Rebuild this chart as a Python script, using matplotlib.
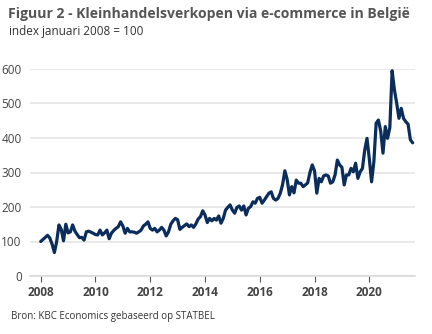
import matplotlib
matplotlib.use("Agg")
import matplotlib.pyplot as plt
import numpy as np

# Monthly index (Jan 2008 = 100), Jan 2008 .. Aug 2021
start_year = 2008
values = [
    # 2008
    100, 106, 112, 118, 110, 92, 68, 100, 148, 135, 102, 150,
    # 2009
    125, 128, 148, 130, 120, 111, 112, 104, 128, 130, 127, 124,
    # 2010
    120, 119, 133, 119, 125, 133, 108, 124, 132, 138, 143, 157,
    # 2011
    145, 124, 138, 128, 128, 127, 124, 128, 133, 145, 150, 157,
    # 2012
    138, 133, 138, 128, 133, 141, 133, 116, 128, 150, 160, 167,
    # 2013
    163, 135, 141, 146, 151, 143, 148, 141, 151, 165, 172, 189,
    # 2014
    177, 155, 167, 160, 167, 162, 174, 153, 167, 191, 199, 206,
    # 2015
    191, 182, 199, 203, 191, 203, 177, 196, 201, 215, 211, 225,
    # 2016
    228, 211, 220, 230, 240, 244, 225, 220, 225, 240, 265, 305,
    # 2017
    280, 235, 259, 241, 278, 269, 269, 259, 264, 270, 300, 322,
    # 2018
    305, 240, 283, 273, 290, 293, 290, 269, 273, 293, 336, 322,
    # 2019
    315, 264, 293, 293, 312, 302, 327, 283, 302, 312, 365, 399,
    # 2020
    340, 273, 331, 443, 452, 420, 356, 433, 399, 430, 595, 540,
    # 2021
    501, 457, 486, 457, 447, 440, 395, 386,
]
year_ticks = [2008, 2010, 2012, 2014, 2016, 2018, 2020]
y_ticks = [0, 100, 200, 300, 400, 500, 600]

title = "Figuur 2 - Kleinhandelsverkopen via e-commerce in België"
subtitle = "index januari 2008 = 100"
source = "Bron: KBC Economics gebaseerd op STATBEL"

plt.rcParams['font.family'] = ['Open Sans', 'DejaVu Sans']

W, H = 432, 334
fig = plt.figure(figsize=(W / 100, H / 100), dpi=100)
ax = fig.add_axes([30 / W, 1 - 276 / H, (415 - 30) / W, (276 - 69) / H])

x = start_year + np.arange(len(values)) / 12.0
ax.plot(x, values, color="#0b2d5b", lw=2.3, solid_joinstyle="round", solid_capstyle="round", zorder=3)

ax.set_xlim(2008 - 10.7 / 27.38, 2020 + 45.7 / 27.38)
ax.set_ylim(0, 600)
ax.set_yticks(y_ticks)
ax.set_xticks(year_ticks)
ax.set_xticklabels([str(y) for y in year_ticks], fontweight="bold", fontsize=8.5, color="#444444")
ax.set_yticklabels([str(v) for v in y_ticks], fontsize=8.5, color="#444444")
ax.grid(axis="y", color="#e5e5e5", lw=1.2)
ax.set_axisbelow(True)
for s in ["top", "right", "left"]:
    ax.spines[s].set_visible(False)
ax.spines["bottom"].set_color("#d9d9d9")
ax.spines["bottom"].set_linewidth(1.2)
ax.tick_params(axis="y", length=0, pad=6)
ax.tick_params(axis="x", length=4, width=0.8, color="#555555", pad=3)

fig.text(8 / W, 1 - 14 / H, title, fontsize=10.1, fontweight="bold", color="#555555", va="center", ha="left")
fig.text(9 / W, 1 - 31 / H, subtitle, fontsize=8.5, color="#333333", va="center", ha="left")
fig.text(11 / W, 1 - 316 / H, source, fontsize=7.0, color="#333333", va="center", ha="left")

fig.savefig("out.png", dpi=100)
